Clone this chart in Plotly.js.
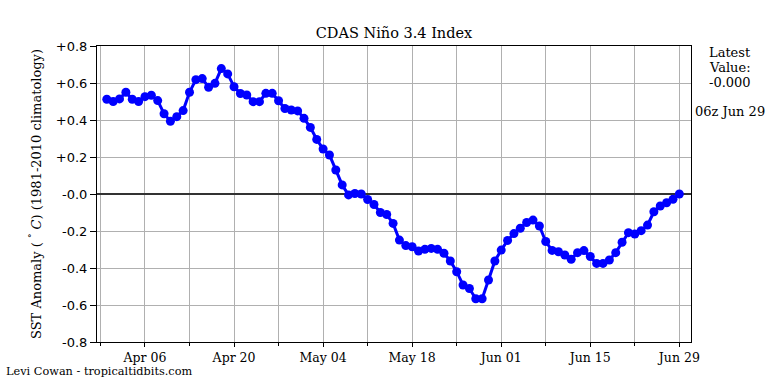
<!DOCTYPE html>
<html>
<head>
<meta charset="utf-8">
<script src="https://cdn.plot.ly/plotly-3.0.1.min.js"></script>
<style>html,body{margin:0;padding:0;background:#fff;}#chart{width:768px;height:384px;}</style>
</head>
<body>
<div id="chart"></div>
<script>
const dates = [
  '2025-03-31',
  '2025-04-01','2025-04-02','2025-04-03','2025-04-04','2025-04-05','2025-04-06','2025-04-07','2025-04-08','2025-04-09','2025-04-10',
  '2025-04-11','2025-04-12','2025-04-13','2025-04-14','2025-04-15','2025-04-16','2025-04-17','2025-04-18','2025-04-19','2025-04-20',
  '2025-04-21','2025-04-22','2025-04-23','2025-04-24','2025-04-25','2025-04-26','2025-04-27','2025-04-28','2025-04-29','2025-04-30',
  '2025-05-01','2025-05-02','2025-05-03','2025-05-04','2025-05-05','2025-05-06','2025-05-07','2025-05-08','2025-05-09','2025-05-10',
  '2025-05-11','2025-05-12','2025-05-13','2025-05-14','2025-05-15','2025-05-16','2025-05-17','2025-05-18','2025-05-19','2025-05-20',
  '2025-05-21','2025-05-22','2025-05-23','2025-05-24','2025-05-25','2025-05-26','2025-05-27','2025-05-28','2025-05-29','2025-05-30','2025-05-31',
  '2025-06-01','2025-06-02','2025-06-03','2025-06-04','2025-06-05','2025-06-06','2025-06-07','2025-06-08','2025-06-09','2025-06-10',
  '2025-06-11','2025-06-12','2025-06-13','2025-06-14','2025-06-15','2025-06-16','2025-06-17','2025-06-18','2025-06-19','2025-06-20',
  '2025-06-21','2025-06-22','2025-06-23','2025-06-24','2025-06-25','2025-06-26','2025-06-27','2025-06-28','2025-06-29'
];
const nino34 = [
  0.512,
  0.500,0.514,0.550,0.512,0.500,0.526,0.534,0.505,0.434,0.393,
  0.418,0.451,0.550,0.618,0.624,0.577,0.598,0.678,0.649,0.580,
  0.543,0.535,0.499,0.499,0.544,0.544,0.504,0.462,0.454,0.449,
  0.409,0.360,0.295,0.243,0.211,0.130,0.049,-0.005,0.003,0.000,
  -0.030,-0.057,-0.100,-0.111,-0.159,-0.249,-0.279,-0.285,-0.308,-0.299,
  -0.294,-0.299,-0.320,-0.362,-0.420,-0.492,-0.511,-0.566,-0.566,-0.465,-0.362,
  -0.303,-0.251,-0.214,-0.185,-0.154,-0.141,-0.173,-0.257,-0.305,-0.312,
  -0.330,-0.353,-0.317,-0.306,-0.338,-0.375,-0.375,-0.357,-0.317,-0.261,
  -0.209,-0.216,-0.198,-0.168,-0.096,-0.065,-0.047,-0.029,0.000
];
const yTickVals = [-0.8,-0.6,-0.4,-0.2,0,0.2,0.4,0.6,0.8];
const yTickText = ['-0.8','-0.6','-0.4','-0.2','-0.0','+0.2','+0.4','+0.6','+0.8'];
const titleText = 'CDAS Niño 3.4 Index';
const yTitle = 'SST Anomaly ( <sup>°</sup> <i>C</i>) (1981-2010 climatology)';
const latestLines = ['Latest', 'Value:', '-0.000'];
const latestTime = '06z Jun 29';
const credit = 'Levi Cowan - tropicaltidbits.com';

const serif = 'DejaVu Serif, serif';
const sans = 'DejaVu Sans, sans-serif';
const DAY = 86400000;

const trace = {
  x: dates, y: nino34, type: 'scatter', mode: 'lines+markers',
  line: {color: '#0000ff', width: 3},
  marker: {color: '#0000ff', size: 9},
  hoverinfo: 'skip'
};

const L = 97, R = 691, T = 46, B = 342;
const W = R - L, H = B - T;
const px = v => (v - L) / W;
const py = v => (B - v) / H;

const annotations = [];
const latestY = [52, 67, 82];
latestLines.forEach((t, i) => annotations.push({
  text: t, xref: 'paper', yref: 'paper', x: px(730), y: py(latestY[i]),
  xanchor: 'center', yanchor: 'middle', showarrow: false,
  font: {family: serif, size: 13, color: '#000'}
}));
annotations.push({
  text: latestTime, xref: 'paper', yref: 'paper', x: px(730), y: py(111),
  xanchor: 'center', yanchor: 'middle', showarrow: false,
  font: {family: serif, size: 13, color: '#000'}
});
annotations.push({
  text: credit, xref: 'paper', yref: 'paper', x: px(4), y: py(371),
  xanchor: 'left', yanchor: 'middle', showarrow: false,
  font: {family: serif, size: 11.3, color: '#000'}
});

const layout = {
  width: 768, height: 384,
  margin: {l: L, r: 768 - R, t: T, b: 384 - B, pad: 0},
  paper_bgcolor: '#fff', plot_bgcolor: '#fff',
  showlegend: false,
  title: {text: titleText, font: {family: serif, size: 14.5, color: '#000'},
          xref: 'paper', x: 0.5, xanchor: 'center', yref: 'container', y: 1 - 33/384, yanchor: 'middle'},
  xaxis: {
    type: 'date',
    range: ['2025-03-29 11:00', '2025-06-30 20:00'],
    tickmode: 'linear', tick0: '2025-04-06', dtick: 14 * DAY,
    tickformat: '%b %d',
    ticks: 'outside', ticklen: 4, tickwidth: 1, tickcolor: '#000',
    tickfont: {family: serif, size: 12.5, color: '#000'},
    showgrid: true, gridcolor: '#b0b0b0', gridwidth: 1,
    minor: {tickmode: 'linear', tick0: '2025-03-30', dtick: 7 * DAY, ticks: 'outside', ticklen: 3,
            tickcolor: '#000', tickwidth: 1, showgrid: true, gridcolor: '#b0b0b0', gridwidth: 1},
    showline: true, linecolor: '#000', linewidth: 1, mirror: true,
    zeroline: false, automargin: false, fixedrange: true
  },
  yaxis: {
    range: [-0.8, 0.8],
    tickmode: 'array', tickvals: yTickVals, ticktext: yTickText,
    ticks: 'outside', ticklen: 6, tickwidth: 1, tickcolor: '#000',
    tickfont: {family: sans, size: 13, color: '#000'},
    showgrid: true, gridcolor: '#b0b0b0', gridwidth: 1,
    zeroline: true, zerolinecolor: '#333', zerolinewidth: 1.3,
    showline: true, linecolor: '#000', linewidth: 1, mirror: true,
    title: {text: yTitle, font: {family: serif, size: 13, color: '#000'}, standoff: 11},
    automargin: false, fixedrange: true
  },
  annotations: annotations
};

Plotly.newPlot('chart', [trace], layout, {staticPlot: true, displayModeBar: false});
</script>
</body>
</html>
